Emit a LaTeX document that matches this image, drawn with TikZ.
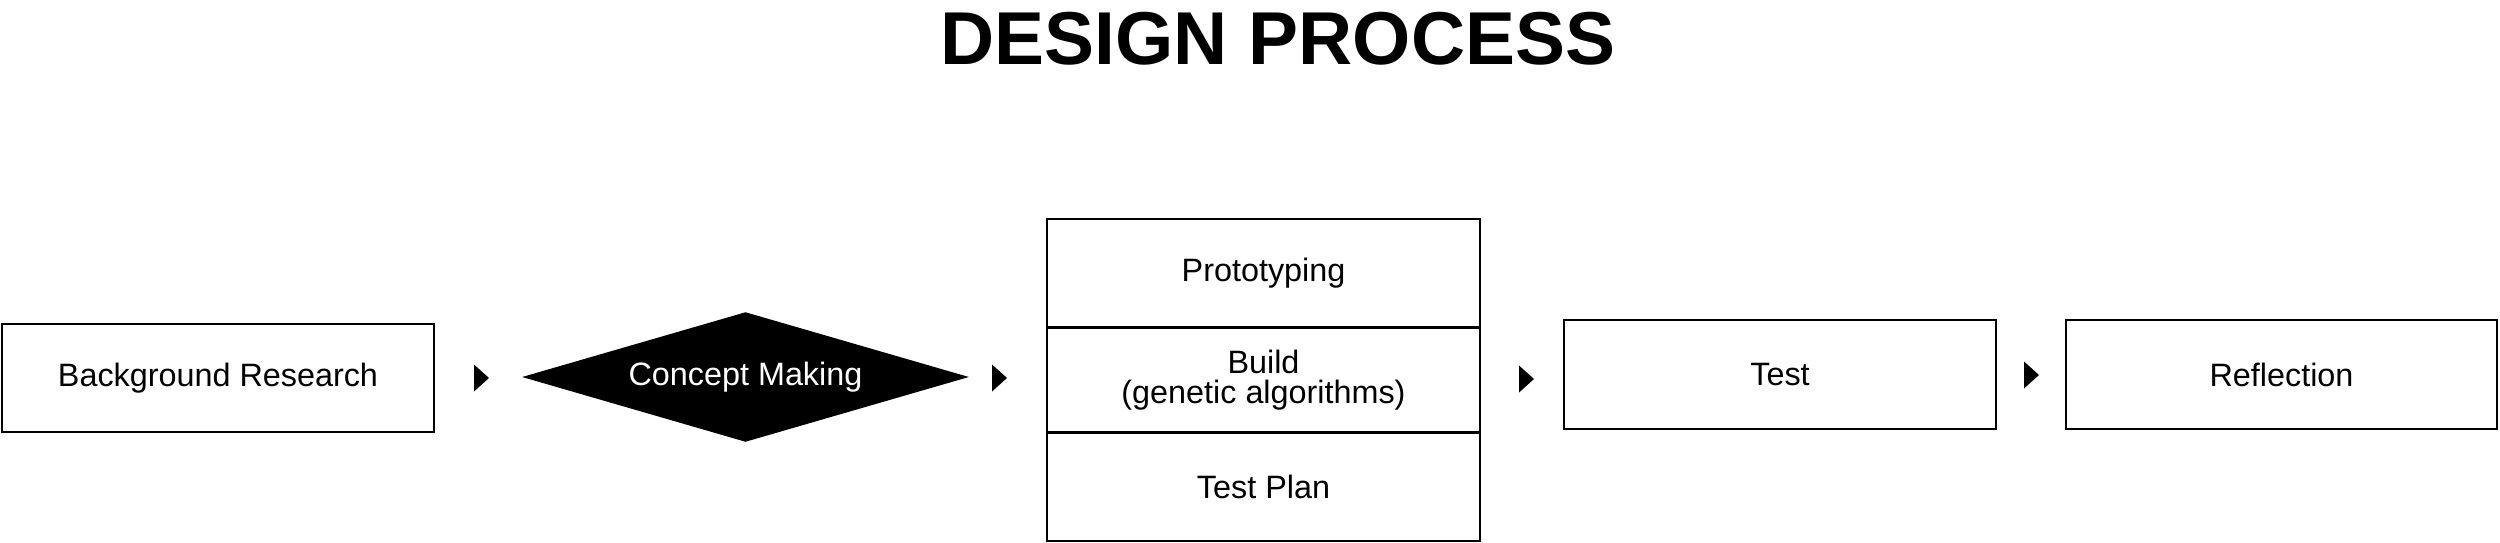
\documentclass[tikz,border=0pt]{standalone}
\usepackage{fontspec}
\setmainfont{Liberation Sans}
\usetikzlibrary{shapes.geometric}
\tikzset{
  box/.style={draw=black, line width=0.75pt, rectangle, inner sep=0pt, outer sep=0pt,
    font=\fontsize{9.2pt}{8.6pt}\selectfont, align=center},
  marker/.style={fill=black},
}
\begin{document}
\begin{tikzpicture}[x=0.01cm, y=-0.01cm]
\useasboundingbox (0,0) rectangle (2500,542);
% title
\node[font=\bfseries\fontsize{21.3pt}{24pt}\selectfont, anchor=center] (title) at (1278,39) {DESIGN PROCESS};
% boxes
\node[box, minimum width=4.32cm, minimum height=1.08cm] (bg) at (218,378) {Background Research};
\node[draw=none, fill=black, diamond, aspect=3.44, minimum width=4.47cm, minimum height=1.30cm, inner sep=0pt,
  text=white, font=\fontsize{9.2pt}{11pt}\selectfont] (cm) at (745.5,377) {Concept Making};
\node[box, minimum width=4.33cm, minimum height=1.08cm] (proto) at (1263.5,273) {Prototyping};
\node[box, minimum width=4.33cm, minimum height=1.05cm] (build) at (1263.5,380) {Build\\(genetic algorithms)};
\node[box, minimum width=4.33cm, minimum height=1.09cm] (plan) at (1263.5,486.5) {Test Plan};
\node[box, minimum width=4.32cm, minimum height=1.09cm] (test) at (1780,374.5) {Test};
\node[box, minimum width=4.31cm, minimum height=1.09cm] (refl) at (2281.5,374.5) {Reflection};
% arrow markers
\coordinate (a1) at (474,378);
\coordinate (a2) at (992,378);
\coordinate (a3) at (1519,379);
\coordinate (a4) at (2024,375);
\foreach \c in {a1,a2,a3,a4}{
  \fill[marker] (\c) ++(0,-13.5) -- ++(15,13.5) -- ++(-15,13.5) -- cycle;
}
\end{tikzpicture}
\end{document}
